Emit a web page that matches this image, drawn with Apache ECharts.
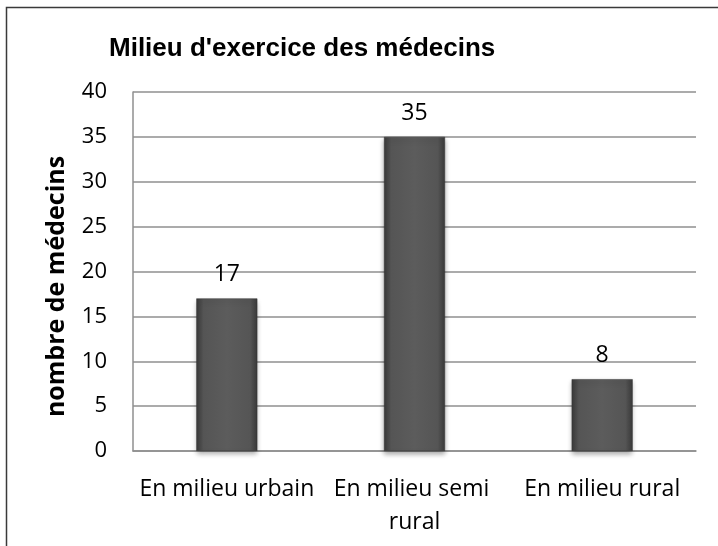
<!DOCTYPE html>
<html>
<head>
<meta charset="utf-8">
<script src="https://cdn.jsdelivr.net/npm/echarts@6/dist/echarts.min.js"></script>
<style>
html, body { margin: 0; padding: 0; background: #fff; }
#chart { width: 718px; height: 546px; }
</style>
</head>
<body>
<div id="chart"></div>
<script>
const categories = ['En milieu urbain', 'En milieu semi rural', 'En milieu rural']
const medecins = [17, 35, 8]
const yTicks = { min: 0, max: 40, interval: 5 }

const gridColor = '#8f8f8f'
const textFont = '"Open Sans", Lato, sans-serif'

// barre grise avec un léger relief
const barFill = new echarts.graphic.LinearGradient(0, 0, 1, 0, [
    { offset: 0, color: '#3a3a3a' },
    { offset: 0.12, color: '#555555' },
    { offset: 0.5, color: '#5c5c5c' },
    { offset: 0.88, color: '#555555' },
    { offset: 1, color: '#3a3a3a' }
])

const chart = echarts.init(document.getElementById('chart'))

chart.setOption({
    animation: false,
    title: {
        text: "Milieu d'exercice des médecins",
        left: 104,
        top: 31,
        textStyle: {
            fontFamily: '"Liberation Sans", Arial, sans-serif',
            fontWeight: 'bold',
            fontSize: 26,
            color: '#000'
        }
    },
    graphic: [{
        type: 'rect',
        shape: { x: 6.5, y: 7.5, width: 800, height: 800 },
        style: { fill: 'none', stroke: '#3a3a3a', lineWidth: 1.5 },
        silent: true
    }],
    grid: { left: 133, right: 22, top: 92, bottom: 95, containLabel: false },
    xAxis: {
        type: 'category',
        data: categories,
        axisLine: { lineStyle: { color: gridColor, width: 1.5 } },
        axisTick: { show: false },
        axisLabel: {
            interval: 0,
            margin: 22,
            width: 184,
            overflow: 'break',
            lineHeight: 33,
            fontFamily: textFont,
            fontSize: 23,
            color: '#000'
        }
    },
    yAxis: {
        type: 'value',
        min: yTicks.min,
        max: yTicks.max,
        interval: yTicks.interval,
        name: 'nombre de médecins',
        nameLocation: 'middle',
        nameGap: 64,
        nameTextStyle: {
            fontFamily: textFont,
            fontWeight: 'bold',
            fontSize: 25,
            color: '#000',
            padding: [0, 30, 0, 0]
        },
        axisLine: { show: true, lineStyle: { color: gridColor, width: 1.5 } },
        axisTick: { show: false },
        splitLine: { lineStyle: { color: gridColor, width: 1.5 } },
        axisLabel: {
            margin: 26,
            fontFamily: textFont,
            fontSize: 22,
            color: '#000'
        }
    },
    series: [{
        type: 'bar',
        data: medecins,
        barWidth: 61,
        itemStyle: {
            color: barFill,
            borderColor: '#333',
            borderWidth: 0.5,
            shadowColor: 'rgba(0,0,0,0.35)',
            shadowBlur: 5,
            shadowOffsetY: 3
        },
        label: {
            show: true,
            position: 'top',
            distance: 12,
            fontFamily: textFont,
            fontSize: 23,
            color: '#000'
        }
    }]
})
</script>
</body>
</html>
